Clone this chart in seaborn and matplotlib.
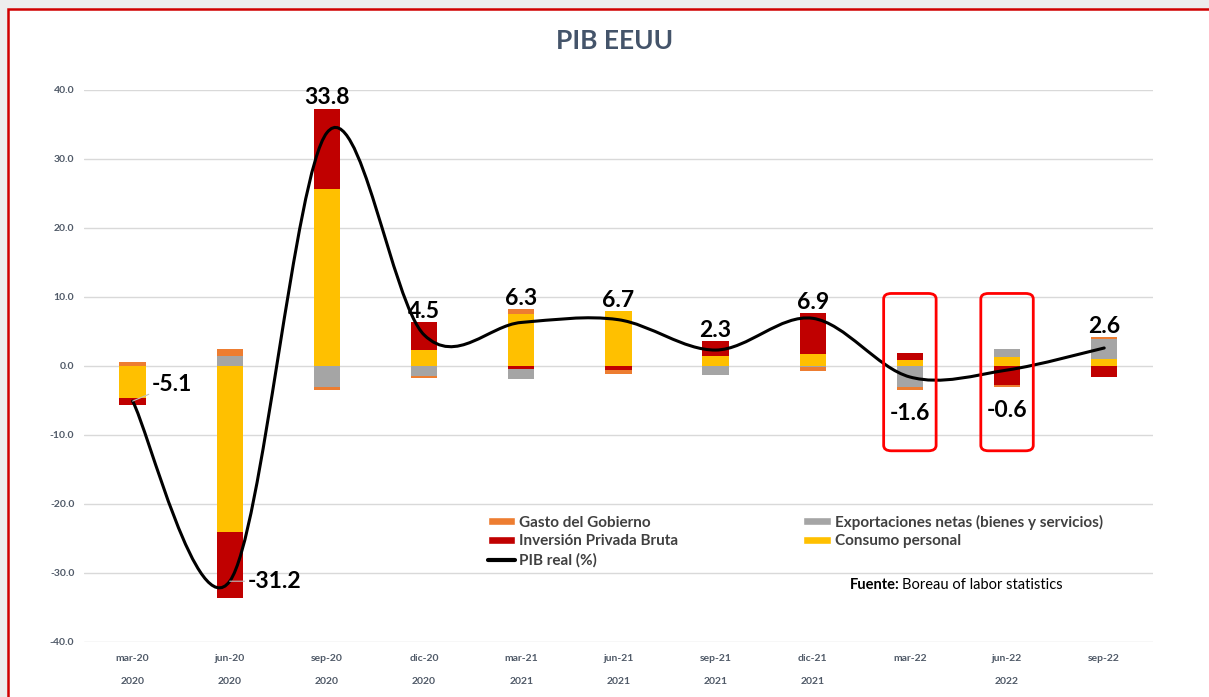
import numpy as np
import pandas as pd
import matplotlib
matplotlib.use("Agg")
import matplotlib.pyplot as plt
import seaborn as sns
from matplotlib.path import Path
from matplotlib.patches import PathPatch, FancyBboxPatch, Rectangle, Patch
from matplotlib.lines import Line2D
from matplotlib.transforms import blended_transform_factory

# ---------------- data ----------------
periodos = ["mar-20", "jun-20", "sep-20", "dic-20", "mar-21", "jun-21",
            "sep-21", "dic-21", "mar-22", "jun-22", "sep-22"]
anios = ["2020", "2020", "2020", "2020", "2021", "2021", "2021", "2021",
         "", "2022", ""]
consumo = [-4.7, -24.1, 25.6, 2.3, 7.5, 7.9, 1.4, 1.7, 0.9, 1.3, 1.0]
inversion = [-1.0, -9.6, 11.7, 4.0, -0.4, -0.6, 2.2, 5.9, 1.0, -2.8, -1.6]
exportaciones = [0.0, 1.5, -3.1, -1.5, -1.5, 0.0, -1.3, -0.2, -3.1, 1.2, 2.9]
gobierno = [0.6, 1.0, -0.4, -0.3, 0.7, -0.6, 0.0, -0.5, -0.4, -0.3, 0.3]
pib = [-5.1, -31.2, 33.8, 4.5, 6.3, 6.7, 2.3, 6.9, -1.6, -0.6, 2.6]
resaltados = ["mar-22", "jun-22"]

series = [
    ("Consumo personal", consumo, "#FFC000"),
    ("Inversión Privada Bruta", inversion, "#C00000"),
    ("Exportaciones netas (bienes y servicios)", exportaciones, "#A5A5A5"),
    ("Gasto del Gobierno", gobierno, "#ED7D31"),
]

sns.set_theme(style="white")
plt.rcParams["font.family"] = ["Lato", "DejaVu Sans"]

fig = plt.figure(figsize=(12.09, 6.97), dpi=100)
fig.patch.set_facecolor("#EDEDED")
bg = Rectangle((8 / 1209, -0.1), 1.2, 1 - 9 / 697 + 0.1,
               transform=fig.transFigure, facecolor="white",
               edgecolor="#D00000", lw=1.8, zorder=-10)
fig.patches.append(bg)
ax = fig.add_axes([0.0695, 0.079, 0.884, 0.792])
ax.set_zorder(1)
ax.set_facecolor("none")

n = len(periodos)
pos_base = np.zeros(n)
neg_base = np.zeros(n)
for name, vals, col in series:
    v = np.array(vals, dtype=float)
    bottom = np.where(v >= 0, pos_base, neg_base)
    df = pd.DataFrame({"periodo": periodos, "valor": v})
    sns.barplot(data=df, x="periodo", y="valor", order=periodos, bottom=bottom,
                color=col, saturation=1, width=0.27, errorbar=None,
                linewidth=0, edgecolor="none", ax=ax, zorder=2)
    pos_base = pos_base + np.where(v >= 0, v, 0)
    neg_base = neg_base + np.where(v < 0, v, 0)

# smoothed line (Bezier through the data points, Excel-style smoothing)
xs = np.arange(n, dtype=float)
ys = np.array(pib, dtype=float)
pts = np.column_stack([xs, ys])
verts = [tuple(pts[0])]
codes = [Path.MOVETO]
for i in range(n - 1):
    p0 = pts[i - 1] if i > 0 else pts[i]
    p1 = pts[i]
    p2 = pts[i + 1]
    p3 = pts[i + 2] if i + 2 < n else pts[i + 1]
    c1 = p1 + (p2 - p0) / 6.0
    c2 = p2 - (p3 - p1) / 6.0
    verts += [tuple(c1), tuple(c2), tuple(p2)]
    codes += [Path.CURVE4] * 3
ax.add_patch(PathPatch(Path(verts, codes), facecolor="none", edgecolor="black",
                       lw=2.2, zorder=4, capstyle="round"))

# data labels
for i, val in enumerate(pib):
    txt = f"{val:.1f}"
    kw = dict(fontsize=16.5, fontweight="bold", color="black", zorder=6,
              textcoords="offset points")
    if val > 0:
        ax.annotate(txt, (i, pos_base[i]), xytext=(0, 3), ha="center",
                    va="baseline", **kw)
    elif val < -3:
        off = (14, 12) if val > -10 else (13, 0)
        ax.annotate(txt, (i, val), xytext=off, ha="left", va="center",
                    arrowprops=dict(arrowstyle="-", color="#BFBFBF", lw=0.8,
                                    shrinkA=0, shrinkB=0), **kw)
    else:
        ax.annotate(txt, (i, neg_base[i]), xytext=(0, -9), ha="center",
                    va="top", **kw)

# highlight boxes
for p in resaltados:
    i = periodos.index(p)
    ax.add_patch(FancyBboxPatch((i - 0.27, -12.3), 0.54, 22.8,
                                boxstyle="round,pad=0,rounding_size=0.08",
                                mutation_aspect=10, facecolor="none",
                                edgecolor="#FF0000", lw=2.0, zorder=5))

# axes styling
ax.set_xlim(-0.5, n - 0.5)
ax.set_ylim(-40, 40)
ticks = np.arange(-40, 41, 10)
ax.set_yticks(ticks)
ax.set_yticklabels([f"{t:.1f}" for t in ticks])
ax.set_xticks(range(n))
ax.set_xticklabels(periodos)
ax.set_xlabel("")
ax.set_ylabel("")
ax.grid(axis="y", color="#D9D9D9", lw=1.0, zorder=0)
ax.set_axisbelow(True)
for s in ax.spines.values():
    s.set_visible(False)
ax.tick_params(axis="both", length=0, labelsize=7.5, labelcolor="#505A68")
ax.tick_params(axis="y", pad=7)
ax.tick_params(axis="x", pad=9)
for lab in ax.get_xticklabels() + ax.get_yticklabels():
    lab.set_fontweight("bold")

trans = blended_transform_factory(ax.transData, ax.transAxes)
for i, a in enumerate(anios):
    if a:
        ax.text(i, -0.071, a, transform=trans, ha="center", va="center",
                fontsize=7.5, fontweight="bold", color="#505A68")

# title
fig.text(0.508, 1 - 41 / 697, "PIB EEUU", ha="center", va="center",
         fontsize=19, fontweight="bold", color="#44546A")

# legend
col = {name: c for name, _, c in series}
handles = [
    Patch(facecolor=col["Gasto del Gobierno"], label="Gasto del Gobierno"),
    Patch(facecolor=col["Inversión Privada Bruta"], label="Inversión Privada Bruta"),
    Line2D([], [], color="black", lw=3, label="PIB real (%)"),
    Patch(facecolor=col["Exportaciones netas (bienes y servicios)"],
          label="Exportaciones netas (bienes y servicios)"),
    Patch(facecolor=col["Consumo personal"], label="Consumo personal"),
]
leg = ax.legend(handles=handles, ncol=2, loc="upper left",
                bbox_to_anchor=(0.372, 0.242), frameon=False,
                prop={"size": 11, "weight": "bold"}, handlelength=1.8,
                handleheight=0.5, handletextpad=0.25, columnspacing=8.2,
                labelspacing=0.32, borderaxespad=0)
for t in leg.get_texts():
    t.set_color("#404040")

fig.text(850 / 1209, 1 - 585 / 697, "Fuente:", ha="left", va="center",
         fontsize=10.5, fontweight="bold", color="black")
fig.text(902 / 1209, 1 - 585 / 697, "Boreau of labor statistics", ha="left",
         va="center", fontsize=10.5, color="black")

fig.savefig("out.png", dpi=100)
